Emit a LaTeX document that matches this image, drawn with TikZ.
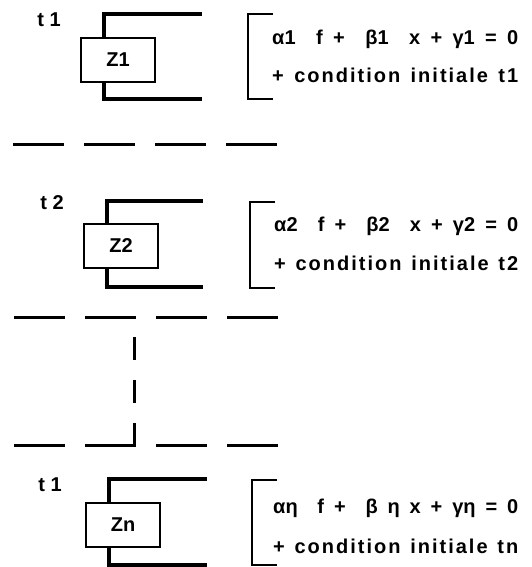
\documentclass[tikz,border=0pt]{standalone}
\usepackage{fontspec}
\setmainfont{Liberation Sans}
\usetikzlibrary{calc,positioning}

\begin{document}
\begin{tikzpicture}[x=1pt,y=-1pt,
  zbox/.style={draw,line width=2.5pt,minimum width=74pt,minimum height=44pt,inner sep=0pt,font=\fontsize{20}{22}\selectfont\bfseries},
  bar/.style={line width=4.5pt},
  brk/.style={line width=2.5pt},
  sep/.style={line width=3pt,dash pattern=on 51pt off 20pt},
  tlbl/.style={inner sep=0pt,font=\fontsize{20}{22}\selectfont\bfseries},
  eq/.style={anchor=west,inner sep=0pt,font=\fontsize{20}{24}\selectfont\bfseries},
  cond/.style={eq,font=\fontsize{20}{24}\selectfont\bfseries\addfontfeature{LetterSpace=10}}]
\useasboundingbox (0,0) rectangle (532,567);

% first instant
\node[tlbl] (t1) at (49,20) {t 1};
\node[zbox] (z1) at (118,60) {Z1};
\coordinate (z1top) at (202,14);
\coordinate (z1bot) at (202,99);
\draw[bar] ($(z1.north west)+(24,0)$) |- (z1top);
\draw[bar] ($(z1.south west)+(24,0)$) |- (z1bot);
\draw[brk] (273,14) -| (248,99) -- (273,99);
\node[eq] (e1a) at (272,39) {\makebox[246pt][s]{α1\ \ f +\ \ β1\ \ x + γ1 = 0}};
\node[cond] (e1b) at (272,75) {\makebox[246pt][s]{+ condition initiale t1}};

\coordinate (s1) at (13,144);
\draw[sep] (s1) -- ++(264,0);

% second instant
\node[tlbl] (t2) at (52,203) {t 2};
\node[zbox] (z2) at (121,246) {Z2};
\coordinate (z2top) at (203,201);
\coordinate (z2bot) at (203,287);
\draw[bar] ($(z2.north west)+(24,0)$) |- (z2top);
\draw[bar] ($(z2.south west)+(24,0)$) |- (z2bot);
\draw[brk] (275,202) -| (250,288) -- (275,288);
\node[eq] (e2a) at (274,226) {\makebox[244pt][s]{α2\ \ f +\ \ β2\ \ x + γ2 = 0}};
\node[cond] (e2b) at (274,263) {\makebox[244pt][s]{+ condition initiale t2}};

\coordinate (s2) at (14,317);
\draw[sep] (s2) -- ++(264,0);

% gap between the instants
\coordinate (s3) at (14,445);
\draw[sep] (s3) -- ++(264,0);
\draw[line width=3pt,dash pattern=on 23pt off 20pt,dash phase=23pt] ($(s2)+(120,0)$) -- ($(s3)+(120,1.5)$);

% last instant
\node[tlbl] (tn) at (50,485) {t 1};
\node[zbox] (zn) at (123,525) {Zn};
\coordinate (zntop) at (207,479);
\coordinate (znbot) at (207,565);
\draw[bar] ($(zn.north west)+(24,0)$) |- (zntop);
\draw[bar] ($(zn.south west)+(24,0)$) |- (znbot);
\draw[brk] (277,480) -| (252,565) -- (277,565);
\node[eq] (ena) at (273,508) {\makebox[245pt][s]{αη\ \ f +\ \ β η x + γη = 0}};
\node[cond] (enb) at (273,546) {\makebox[245pt][s]{+ condition initiale tn}};
\end{tikzpicture}
\end{document}
